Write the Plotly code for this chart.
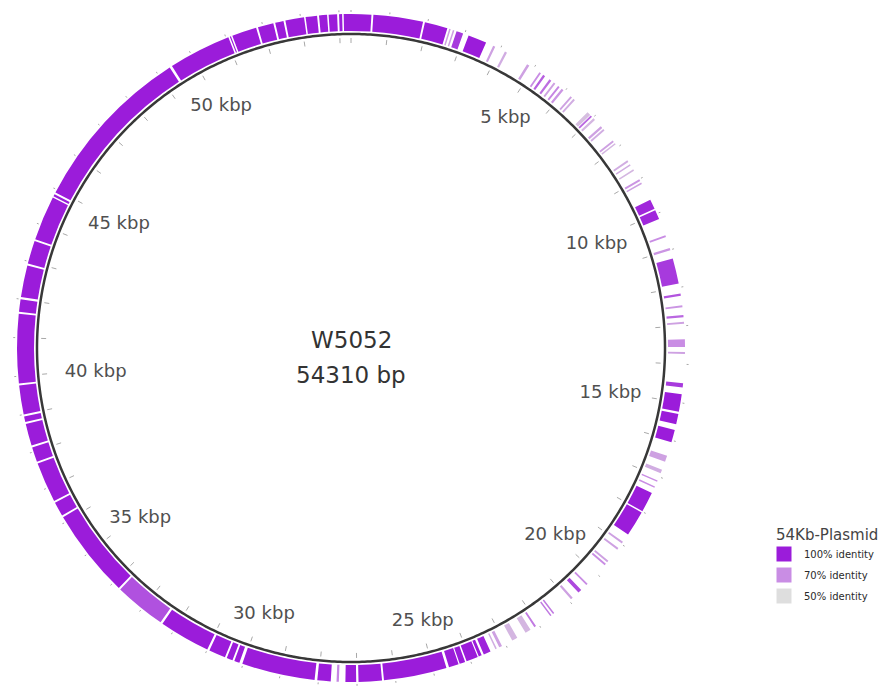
import math
import plotly.graph_objects as go

# ---------------- data ----------------
TOTAL_BP = 54310
PLASMID_NAME = "W5052"
REF_NAME = "54Kb-Plasmid"

# BLAST hit segments (bp start, bp end, % identity)
seg_start = [0, 580, 1930, 2580, 2680, 2780, 3110, 3800, 4140, 4800, 5180, 5300, 5500, 5640,
             5780, 5900, 6200, 6300, 6800, 6920, 7020, 7300, 7400, 7780, 7870, 8420, 8540, 8700,
             9000, 9100, 9600, 9900, 10600, 10950, 11230, 12160, 12470, 12720, 12900, 13350,
             13680, 14490, 14780, 15300, 15720, 16420, 16800, 17100, 17270, 17460, 18030, 18930,
             19130, 19550, 19650, 20350, 20580, 20880, 21500, 21590, 22080, 22250, 22650, 23100,
             23250, 23430, 23680, 23790, 24140, 24320, 24650, 26350, 27020, 27470, 27680, 28100,
             30100, 30290, 30500, 31000, 32400, 33800, 36190, 36620, 37730, 38170, 38800, 39000,
             39810, 41670, 42060, 42940, 43600, 44810, 44920, 49420, 51100, 51170, 51870, 52330,
             52600, 53130, 53480, 53730, 54000, 54120]
seg_end = [530, 1880, 2530, 2620, 2720, 2960, 3600, 3860, 4200, 4870, 5230, 5360, 5560, 5690,
           5830, 5960, 6250, 6350, 6900, 6970, 7080, 7360, 7450, 7830, 7910, 8470, 8580, 8740,
           9050, 9140, 9860, 10150, 10650, 11010, 11900, 12220, 12520, 12780, 12950, 13550,
           13730, 14600, 15240, 15570, 16050, 16580, 16900, 17140, 17310, 17990, 18700, 18980,
           19180, 19600, 19700, 20400, 20680, 20940, 21540, 21630, 22130, 22400, 22800, 23180,
           23290, 23620, 23760, 24100, 24290, 24580, 26300, 26960, 27300, 27530, 28030, 30020,
           30240, 30450, 30940, 32340, 33750, 36140, 36570, 37680, 38120, 38750, 38950, 39760,
           41620, 42000, 42890, 43550, 44770, 44870, 49350, 51060, 51130, 51820, 52280, 52550,
           53090, 53430, 53690, 53950, 54080, 54310]
seg_identity = [100, 100, 100, 65, 65, 92, 100, 65, 62, 65, 70, 82, 78, 65,
                72, 68, 65, 62, 58, 80, 60, 65, 62, 65, 60, 62, 62, 60,
                68, 65, 97, 97, 70, 68, 92, 85, 68, 80, 65, 70,
                65, 92, 100, 100, 100, 65, 62, 70, 70, 100, 100, 65,
                65, 65, 70, 70, 88, 65, 75, 75, 75, 60, 60, 65,
                62, 98, 100, 100, 100, 100, 100, 100, 100, 72, 100, 100,
                100, 100, 100, 100, 86, 100, 100, 100, 100, 100, 100, 100,
                100, 100, 100, 100, 100, 100, 100, 100, 100, 100, 100, 100,
                100, 100, 100, 100, 100, 100]

label_positions = [5000, 10000, 15000, 20000, 25000, 30000, 35000, 40000, 45000, 50000]
label_texts = ["%d kbp" % (p // 1000) for p in label_positions]

legend_labels = ["100% identity", "70% identity", "50% identity"]
legend_identity = [100, 70, 50]

# ---------------- helpers ----------------
def bp_to_deg(bp):
    return bp / TOTAL_BP * 360.0

STOPS = [(50, (222, 222, 222)), (70, (201, 141, 228)), (100, (155, 28, 218))]

def identity_color(p):
    p = max(50, min(100, p))
    for (p0, c0), (p1, c1) in zip(STOPS[:-1], STOPS[1:]):
        if p <= p1:
            t = (p - p0) / (p1 - p0)
            c = [round(a + (b - a) * t) for a, b in zip(c0, c1)]
            return "rgb(%d,%d,%d)" % tuple(c)
    return "rgb(%d,%d,%d)" % STOPS[-1][1]

W, H = 893, 687
PAGE = 8                   # default page body margin in the browser
CX, CY = 351 - PAGE, 348 - PAGE   # centre of the map (figure px from left / top)
R_CIRCLE = 314
R_RING_IN = 317
R_RING_OUT = 334
R_MAX = 338
LABEL_NUDGE = (3, 3)       # small screen offset of label boxes (right, down)

fig = go.Figure()

# ring of hits
fig.add_trace(go.Barpolar(
    theta=[bp_to_deg((s + e) / 2) for s, e in zip(seg_start, seg_end)],
    width=[bp_to_deg(e - s) for s, e in zip(seg_start, seg_end)],
    r=[R_RING_OUT - R_RING_IN] * len(seg_start),
    base=[R_RING_IN] * len(seg_start),
    marker=dict(color=[identity_color(p) for p in seg_identity], line=dict(width=0)),
    showlegend=False, hoverinfo="skip",
))

# backbone circle
circ_theta = [i * 0.5 for i in range(721)]
fig.add_trace(go.Scatterpolar(
    r=[R_CIRCLE] * len(circ_theta), theta=circ_theta, mode="lines",
    line=dict(color="#383838", width=2.5), showlegend=False, hoverinfo="skip",
))

# tick marks (every kbp, inside and outside)
tick_r, tick_t = [], []
for k in range(0, TOTAL_BP, 1000):
    th = bp_to_deg(k)
    tick_r += [305, 310, None, 336, 341, None]
    tick_t += [th, th, None, th, th, None]
fig.add_trace(go.Scatterpolar(
    r=tick_r, theta=tick_t, mode="lines", line=dict(color="#a8a8a8", width=1),
    showlegend=False, hoverinfo="skip", cliponaxis=False,
))

# position labels
lab_r, lab_theta = [], []
for p in label_positions:
    t = math.radians(bp_to_deg(p))
    rr = 279 - 20 * math.sin(t) ** 4
    x = rr * math.sin(t) + LABEL_NUDGE[0]
    y = rr * math.cos(t) - LABEL_NUDGE[1]
    lab_r.append(math.hypot(x, y))
    lab_theta.append(math.degrees(math.atan2(x, y)) % 360)
fig.add_trace(go.Scatterpolar(
    r=lab_r, theta=lab_theta, mode="text", text=label_texts,
    textposition="middle center",
    textfont=dict(family="DejaVu Sans", size=18, color="#505050"),
    showlegend=False, hoverinfo="skip",
))

# legend entries
for i, (lab, ident) in enumerate(zip(legend_labels, legend_identity)):
    fig.add_trace(go.Scatterpolar(
        r=[None], theta=[None], mode="markers", name=lab, legendgroup="g%d" % i,
        marker=dict(symbol="square", size=15, color=identity_color(ident)),
    ))

fig.add_annotation(x=CX / W, y=1 - (340 - PAGE) / H, xref="paper", yref="paper",
                   text=PLASMID_NAME, showarrow=False,
                   font=dict(family="DejaVu Sans", size=23, color="#333333"))
fig.add_annotation(x=CX / W, y=1 - (375 - PAGE) / H, xref="paper", yref="paper",
                   text="%d bp" % TOTAL_BP, showarrow=False,
                   font=dict(family="DejaVu Sans", size=23, color="#333333"))

fig.update_layout(
    width=W, height=H,
    margin=dict(l=0, r=0, t=0, b=0, autoexpand=False),
    paper_bgcolor="white", plot_bgcolor="white",
    polar=dict(
        domain=dict(x=[(CX - R_MAX) / W, (CX + R_MAX) / W],
                    y=[(H - CY - R_MAX) / H, (H - CY + R_MAX) / H]),
        bgcolor="white",
        radialaxis=dict(range=[0, R_MAX], visible=False, showgrid=False),
        angularaxis=dict(rotation=90, direction="clockwise", visible=False, showgrid=False),
    ),
    showlegend=True,
    legend=dict(
        x=766 / W, y=1 - 512 / H, xanchor="left", yanchor="top",
        title=dict(text=REF_NAME, font=dict(family="DejaVu Sans", size=15, color="#444444")),
        font=dict(family="DejaVu Sans", size=10, color="#2a2a2a"),
        tracegroupgap=2, bgcolor="rgba(0,0,0,0)", itemwidth=30, indentation=-10,
    ),
)

fig.write_html("out.html")
